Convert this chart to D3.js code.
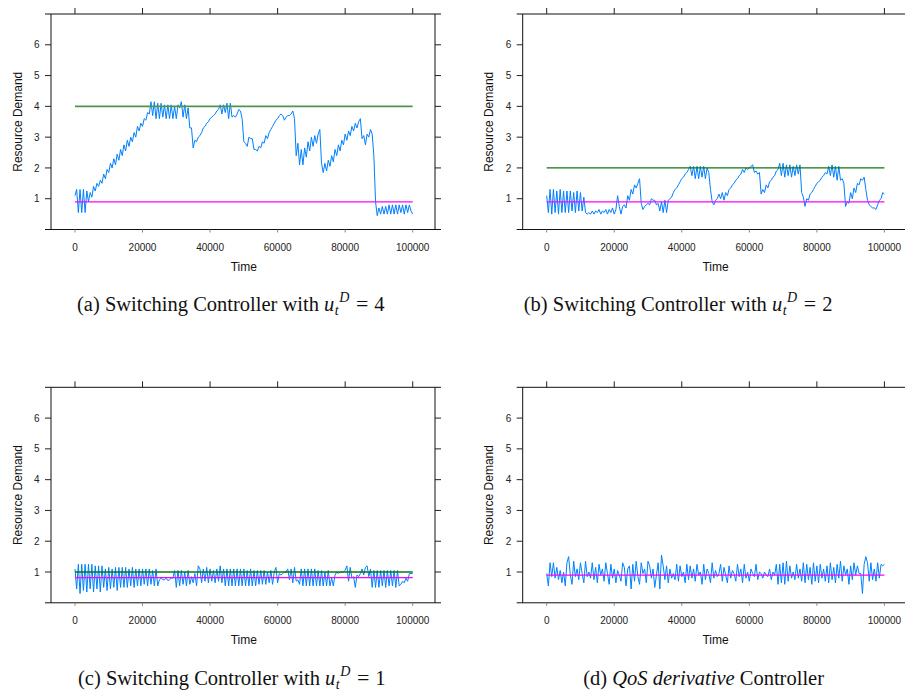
<!DOCTYPE html>
<html lang="en">
<head>
    <meta charset="utf-8">
    <title>Resource Demand - Controllers</title>
    <script src="https://d3js.org/d3.v7.min.js"></script>
    <style>
        body {
            margin: 0;
            background: #ffffff;
        }
        .tick-label {
            font-family: "Liberation Sans", Arial, Helvetica, sans-serif;
            font-size: 10px;
            fill: #222;
        }
        .axis-title {
            font-family: "Liberation Sans", Arial, Helvetica, sans-serif;
            font-size: 12px;
            fill: #111;
        }
        .caption {
            font-family: "Liberation Serif", "Times New Roman", serif;
            font-size: 20.5px;
            fill: #111;
        }
    </style>
</head>
<body>
    <svg id="chart" width="905" height="695"></svg>

    <script>
        // Sampled every 500 time units, 0 .. 100000
        const time = d3.range(0, 100001, 500);

        const demandA = [
            1.1, 1.3, 0.55, 1.3, 0.55, 1.3, 0.55, 1.25, 0.9, 1.2,
            1.05, 1.4, 1.25, 1.5, 1.4, 1.6, 1.5, 1.8, 1.65, 1.95,
            1.85, 2.15, 2.0, 2.3, 2.1, 2.45, 2.25, 2.6, 2.4, 2.75,
            2.55, 2.9, 2.7, 3.0, 2.85, 3.15, 3.0, 3.35, 3.2, 3.45,
            3.35, 3.6, 3.55, 3.8, 3.75, 4.15, 3.7, 4.15, 3.6, 4.1,
            3.6, 4.1, 3.65, 4.05, 3.6, 4.05, 3.6, 4.05, 3.6, 4.0,
            3.6, 4.05, 3.95, 4.15, 3.65, 4.05, 3.6, 3.95, 3.3, 3.3,
            2.65, 2.9, 2.85, 3.0, 3.05, 3.15, 3.3, 3.35, 3.45, 3.5,
            3.6, 3.65, 3.7, 3.75, 3.85, 3.9, 4.05, 3.75, 4.05, 3.8,
            4.1, 3.6, 4.1, 3.65, 3.7, 3.65, 3.75, 3.9, 3.85, 3.6,
            2.85, 2.8, 2.7, 3.0, 2.95, 2.95, 2.6, 2.6, 2.55, 2.7,
            2.65, 2.85, 2.8, 3.05, 2.95, 3.15, 3.25, 3.35, 3.45, 3.55,
            3.6, 3.7, 3.75, 3.7, 3.55, 3.65, 3.7, 3.7, 3.75, 3.85,
            3.6, 2.4, 2.8, 2.1, 2.6, 2.1, 2.65, 2.35, 2.85, 2.55,
            3.0, 2.7, 3.05, 2.8, 3.1, 3.25, 2.15, 1.85, 2.15, 1.9,
            2.25, 2.05, 2.4, 2.2, 2.6, 2.4, 2.75, 2.55, 2.9, 2.75,
            3.1, 2.9, 3.2, 3.05, 3.35, 3.2, 3.45, 3.3, 3.5, 3.6,
            2.95, 3.05, 2.75, 3.1, 3.0, 3.25, 3.1, 2.4, 0.9, 0.45,
            0.7, 0.5, 0.75, 0.5, 0.75, 0.5, 0.8, 0.5, 0.8, 0.5,
            0.8, 0.5, 0.8, 0.55, 0.8, 0.5, 0.8, 0.55, 0.8, 0.6,
            0.5
        ];

        const demandB = [
            1.1, 0.55, 1.3, 0.5, 1.3, 0.55, 1.25, 0.5, 1.3, 0.55,
            1.25, 0.55, 1.25, 0.55, 1.25, 0.6, 1.2, 0.55, 1.25, 0.6,
            1.2, 0.6, 1.05, 0.55, 0.5, 0.55, 0.5, 0.6, 0.5, 0.6,
            0.55, 0.65, 0.5, 0.6, 0.55, 0.65, 0.5, 0.65, 0.55, 0.7,
            0.5, 0.65, 1.1, 0.75, 0.5, 0.75, 0.8, 0.7, 1.1, 0.95,
            1.3, 1.15, 1.45, 1.35, 1.5, 1.65, 0.85, 0.65, 0.75, 0.8,
            0.85, 0.8, 1.0, 0.95, 0.95, 0.8, 0.85, 0.6, 0.9, 0.55,
            0.95, 0.55, 0.95, 1.0, 1.05, 1.2, 1.3, 1.35, 1.45, 1.55,
            1.65, 1.7, 1.8, 1.85, 1.95, 2.05, 1.75, 2.05, 1.65, 2.05,
            1.65, 2.05, 1.7, 2.05, 1.65, 2.0, 1.85, 1.3, 0.9, 0.8,
            0.95, 1.0, 1.15, 1.0, 1.2, 0.95, 1.2, 1.1, 1.3, 1.35,
            1.45, 1.5, 1.6, 1.65, 1.75, 1.8, 1.95, 1.85, 2.0, 1.95,
            2.0, 2.05, 2.1, 1.85, 1.9, 1.8, 1.85, 1.15, 1.3, 1.2,
            1.45, 1.35, 1.55, 1.6, 1.7, 1.75, 1.9, 1.95, 2.15, 1.75,
            2.15, 1.7, 2.1, 1.75, 2.1, 1.7, 2.05, 1.75, 2.1, 1.8,
            2.1, 1.2, 1.05, 0.75, 1.0, 0.95, 1.15, 1.2, 1.3, 1.4,
            1.5, 1.55, 1.6, 1.7, 1.75, 1.85, 1.8, 2.05, 1.75, 2.1,
            1.7, 2.05, 1.6, 2.05, 1.6, 1.65, 1.5, 0.75, 0.9, 0.85,
            1.2, 1.0, 1.35, 1.2, 1.5, 1.45, 1.65, 1.6, 1.7, 1.3,
            0.95, 0.8, 0.75, 0.7, 0.7, 0.65, 0.8, 0.95, 1.0, 1.2,
            1.15
        ];

        const demandC = [
            1.1, 0.45, 1.25, 0.3, 1.25, 0.4, 1.25, 0.35, 1.25, 0.45,
            1.25, 0.35, 1.2, 0.45, 1.2, 0.35, 1.2, 0.5, 1.1, 0.4,
            1.15, 0.45, 1.1, 0.5, 1.15, 0.4, 1.15, 0.5, 1.15, 0.5,
            1.15, 0.5, 1.1, 0.55, 1.15, 0.5, 1.1, 0.55, 1.1, 0.55,
            1.1, 0.6, 1.1, 0.55, 1.1, 0.6, 1.05, 0.55, 1.1, 0.55,
            0.75, 0.8, 0.75, 0.75, 0.8, 0.72, 0.75, 0.8, 0.8, 1.05,
            0.5, 1.05, 0.55, 1.05, 0.6, 1.0, 0.55, 1.05, 0.6, 0.85,
            0.65, 0.95, 0.55, 1.2, 1.1, 0.65, 1.1, 0.7, 1.15, 0.65,
            1.1, 0.7, 1.05, 0.65, 1.1, 0.7, 1.2, 0.65, 1.1, 0.55,
            1.1, 0.55, 1.1, 0.55, 1.1, 0.55, 1.1, 0.55, 1.1, 0.55,
            1.1, 0.55, 1.05, 0.55, 1.1, 0.55, 1.05, 0.55, 1.05, 0.6,
            1.05, 0.6, 1.05, 0.6, 1.0, 0.65, 1.05, 0.6, 1.0, 1.15,
            0.65, 0.95, 0.9, 0.95, 1.0, 1.0, 1.1, 0.75, 1.1, 0.65,
            1.15, 0.7, 0.75, 0.6, 1.1, 0.55, 1.1, 0.55, 1.1, 0.55,
            1.1, 0.55, 1.1, 0.55, 1.05, 0.55, 1.05, 0.55, 1.0, 0.55,
            1.05, 0.55, 0.8, 0.55, 0.9, 1.0, 0.95, 1.0, 1.0, 1.0,
            1.05, 1.2, 0.7, 1.15, 0.8, 0.85, 0.5, 0.9, 0.85, 0.95,
            1.1, 0.9, 1.15, 1.2, 0.85, 1.1, 0.5, 1.05, 0.5, 1.05,
            0.5, 1.05, 0.55, 1.05, 0.5, 1.05, 0.55, 1.05, 0.55, 1.05,
            0.5, 1.05, 0.55, 0.6, 0.7, 0.65, 0.8, 0.7, 0.95, 0.95,
            0.95
        ];

        const demandD = [
            0.95, 0.55, 1.3, 0.85, 1.3, 0.8, 1.15, 0.75, 1.05, 0.65,
            1.0, 0.55, 1.3, 1.5, 0.9, 0.6, 1.35, 0.85, 1.1, 0.75,
            1.3, 0.95, 0.65, 1.35, 0.85, 1.0, 0.8, 1.3, 0.75, 1.15,
            0.65, 1.25, 0.9, 1.1, 0.7, 1.3, 0.95, 0.6, 1.25, 0.8,
            1.1, 0.65, 1.05, 0.9, 0.7, 1.3, 1.15, 0.55, 1.1, 1.2,
            0.45, 1.25, 0.7, 1.35, 0.85, 0.6, 1.3, 0.95, 1.1, 0.65,
            1.35, 1.2, 0.8, 1.1, 0.5, 0.9, 1.3, 0.45, 1.55, 1.2,
            0.75, 1.2, 0.65, 1.1, 0.8, 0.95, 0.75, 1.25, 0.7, 1.2,
            0.85, 1.0, 0.65, 1.25, 0.75, 1.2, 0.8, 1.1, 0.7, 1.25,
            0.9, 1.0, 0.6, 1.25, 0.75, 1.1, 0.95, 0.65, 1.3, 0.8,
            1.05, 0.85, 0.95, 1.25, 0.7, 1.15, 0.9, 0.65, 1.2, 0.8,
            1.05, 0.95, 0.7, 1.25, 0.85, 1.1, 0.65, 1.25, 0.8, 1.0,
            0.7, 1.1, 0.95, 0.85, 1.25, 0.75, 1.0, 0.95, 0.8, 1.0,
            0.9, 0.85, 1.1, 0.75, 1.0, 0.9, 1.25, 0.6, 1.25, 0.65,
            1.3, 0.6, 1.35, 0.7, 1.2, 0.8, 1.0, 0.75, 1.25, 0.8,
            1.1, 0.7, 1.3, 0.65, 1.25, 0.75, 1.15, 0.6, 1.3, 0.7,
            1.2, 0.65, 1.25, 0.8, 1.1, 0.7, 1.2, 0.65, 1.3, 0.75,
            1.15, 0.65, 1.25, 0.8, 1.35, 0.7, 1.2, 0.9, 1.1, 0.6,
            1.2, 0.75, 1.3, 0.9, 1.2, 0.95, 0.95, 0.3, 1.25, 1.5,
            1.3, 0.7, 1.3, 0.75, 1.1, 0.7, 1.3, 0.8, 1.25, 1.2,
            1.25
        ];

        const xTicks = [0, 20000, 40000, 60000, 80000, 100000];
        const yTicks = [1, 2, 3, 4, 5, 6];
        const upperLimits = [4, 2, 1, null];
        const lowerLimits = [0.9, 0.9, 0.82, 0.9];
        const captionLabels = ["(a)", "(b)", "(c)", "(d)"];
        const captionValues = ["4", "2", "1", null];

        const svg = d3.select("#chart");

        // panel placement: frame is 51..435 x 14..229.5 inside each panel group
        const panels = [
            { data: demandA, ox: 0, oy: 0, capX: 77, greenColor: "#4f944f", greenWidth: 1.9 },
            { data: demandB, ox: 471.7, oy: 0, capX: 52, greenColor: "#0e760e", greenWidth: 1.3 },
            { data: demandC, ox: 0, oy: 373.3, capX: 78, greenColor: "#0e760e", greenWidth: 1.3 },
            { data: demandD, ox: 471.7, oy: 373.3, capX: 111.5, greenColor: "#0e760e", greenWidth: 1.3 }
        ];

        const frameLeft = 51, frameRight = 435, frameTop = 14, frameBottom = 229.5, tickLen = 6;

        const x = d3.scaleLinear().domain([-7100, 106600]).range([frameLeft, frameRight]);
        const y = d3.scaleLinear().domain([0, 7]).range([frameBottom, frameTop]);

        const line = d3.line()
            .x(d => x(d[0]))
            .y(d => y(d[1]));

        panels.forEach((p, i) => {
            const g = svg.append("g")
                .attr("transform", `translate(${p.ox},${p.oy})`);

            // series
            const pts = time.map((t, k) => [t, p.data[k]]);
            g.append("path")
                .datum(pts)
                .attr("fill", "none")
                .attr("stroke", "#0080ff")
                .attr("stroke-width", 1)
                .attr("stroke-linejoin", "round")
                .attr("d", line);

            // reference lines
            if (upperLimits[i] !== null) {
                g.append("path")
                    .datum([[0, upperLimits[i]], [100000, upperLimits[i]]])
                    .attr("fill", "none")
                    .attr("stroke", p.greenColor)
                    .attr("stroke-width", p.greenWidth)
                    .attr("d", line);
            }
            g.append("path")
                .datum([[0, lowerLimits[i]], [100000, lowerLimits[i]]])
                .attr("fill", "none")
                .attr("stroke", "#ff00ff")
                .attr("stroke-width", 1.3)
                .attr("d", line);

            // frame
            const frame = g.append("g").attr("stroke", "#111").attr("stroke-width", 1);
            frame.append("line").attr("x1", frameLeft - tickLen).attr("x2", frameRight + tickLen)
                .attr("y1", frameTop).attr("y2", frameTop);
            frame.append("line").attr("x1", frameLeft - tickLen).attr("x2", frameRight + tickLen)
                .attr("y1", frameBottom).attr("y2", frameBottom);
            frame.append("line").attr("x1", frameLeft).attr("x2", frameLeft)
                .attr("y1", frameTop).attr("y2", frameBottom);
            frame.append("line").attr("x1", frameRight).attr("x2", frameRight)
                .attr("y1", frameTop).attr("y2", frameBottom);

            // ticks
            const ticks = g.append("g").attr("stroke", "#222").attr("stroke-width", 1);
            xTicks.forEach(t => {
                ticks.append("line").attr("x1", x(t)).attr("x2", x(t))
                    .attr("y1", frameTop - tickLen).attr("y2", frameTop);
                ticks.append("line").attr("x1", x(t)).attr("x2", x(t))
                    .attr("y1", frameBottom).attr("y2", frameBottom + 3)
                    .attr("stroke", "#888");
            });
            yTicks.forEach(v => {
                ticks.append("line").attr("x1", frameLeft - tickLen).attr("x2", frameLeft)
                    .attr("y1", y(v)).attr("y2", y(v));
                ticks.append("line").attr("x1", frameRight).attr("x2", frameRight + tickLen)
                    .attr("y1", y(v)).attr("y2", y(v));
            });

            // tick labels
            g.selectAll(".xlab")
                .data(xTicks)
                .enter().append("text")
                .attr("class", "tick-label")
                .attr("x", d => x(d))
                .attr("y", frameBottom + 21)
                .attr("text-anchor", "middle")
                .text(d => d);

            g.selectAll(".ylab")
                .data(yTicks)
                .enter().append("text")
                .attr("class", "tick-label")
                .attr("x", frameLeft - 11.5)
                .attr("y", d => y(d) + 3.6)
                .attr("text-anchor", "end")
                .text(d => d);

            // axis titles
            g.append("text")
                .attr("class", "axis-title")
                .attr("x", (x(0) + x(100000)) / 2)
                .attr("y", frameBottom + 41.5)
                .attr("text-anchor", "middle")
                .text("Time");

            g.append("text")
                .attr("class", "axis-title")
                .attr("transform", `translate(21.5,${(frameTop + frameBottom) / 2}) rotate(-90)`)
                .attr("text-anchor", "middle")
                .text("Resource Demand");

            // caption (sub/superscript kept inside one text element)
            const cy = frameBottom + 81 + (p.oy > 0 ? 1 : 0);
            const cap = g.append("text")
                .attr("class", "caption")
                .attr("x", p.capX)
                .attr("y", cy);

            if (captionValues[i] !== null) {
                cap.append("tspan").text(captionLabels[i] + " Switching Controller with ");
                cap.append("tspan").attr("font-style", "italic").text("u");
                cap.append("tspan").attr("font-style", "italic")
                    .style("font-size", "14px")
                    .attr("dx", 0.5).attr("dy", 4.5)
                    .text("t");
                cap.append("tspan").attr("font-style", "italic")
                    .style("font-size", "14px")
                    .attr("dx", 0.5).attr("dy", -13)
                    .text("D");
                cap.append("tspan")
                    .style("font-size", "22px")
                    .attr("dx", 6.5).attr("dy", 8.5)
                    .text("=");
                cap.append("tspan")
                    .attr("dx", 6)
                    .text(captionValues[i]);
            } else {
                cap.append("tspan").text(captionLabels[i] + " ");
                cap.append("tspan").attr("font-style", "italic").text("QoS derivative");
                cap.append("tspan").text(" Controller");
            }
        });
    </script>
</body>
</html>
